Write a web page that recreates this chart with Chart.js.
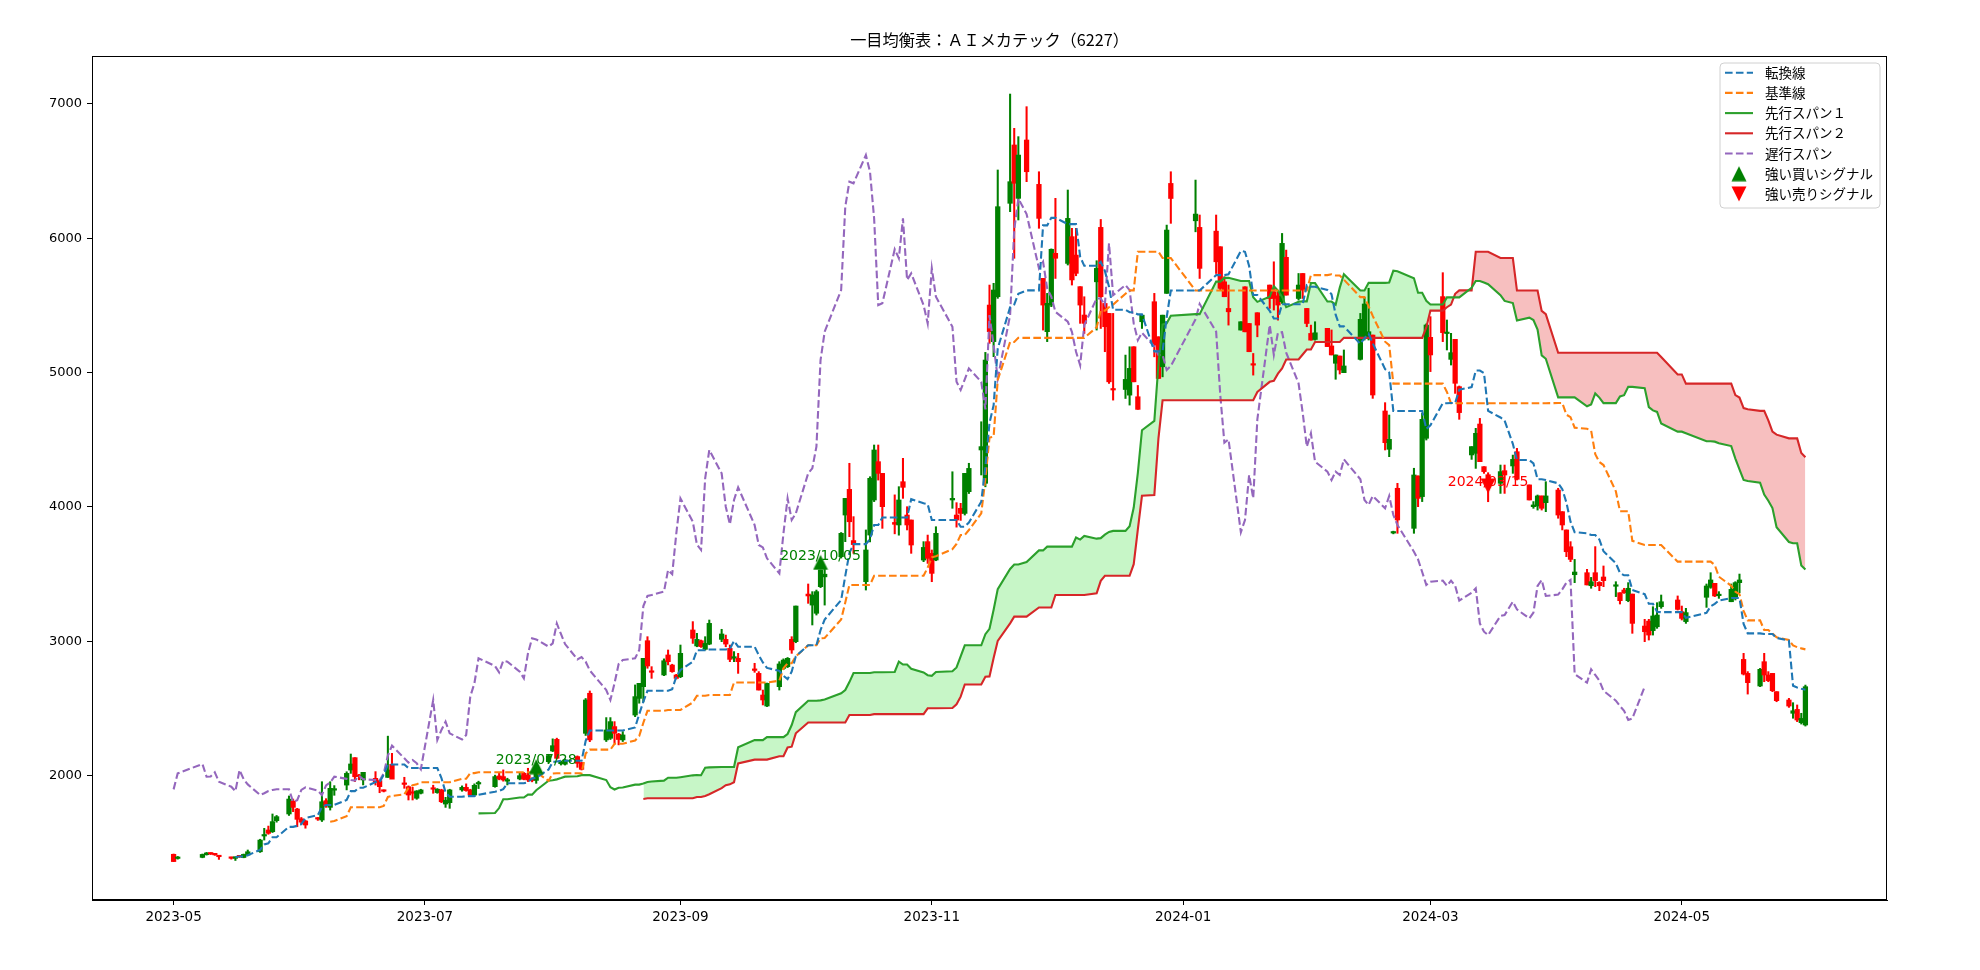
<!DOCTYPE html>
<html>
<head>
<meta charset="utf-8">
<script src="https://cdn.jsdelivr.net/npm/chart.js@4.4.1/dist/chart.umd.min.js"></script>
<style>
html, body { margin: 0; padding: 0; background: #fff; }
canvas { display: block; }
</style>
</head>
<body>
<canvas id="chart" width="1980" height="970"></canvas>
<script>
// 取引日 (2023-05-01 〜 2024-05-31)
const dates = [
'2023-05-01','2023-05-02','2023-05-08','2023-05-09','2023-05-10','2023-05-11','2023-05-12','2023-05-15','2023-05-16','2023-05-17','2023-05-18','2023-05-19','2023-05-22','2023-05-23','2023-05-24','2023-05-25','2023-05-26','2023-05-29','2023-05-30','2023-05-31',
'2023-06-01','2023-06-02','2023-06-05','2023-06-06','2023-06-07','2023-06-08','2023-06-09','2023-06-12','2023-06-13','2023-06-14','2023-06-15','2023-06-16','2023-06-19','2023-06-20','2023-06-21','2023-06-22','2023-06-23','2023-06-26','2023-06-27','2023-06-28','2023-06-29','2023-06-30',
'2023-07-03','2023-07-04','2023-07-05','2023-07-06','2023-07-07','2023-07-10','2023-07-11','2023-07-12','2023-07-13','2023-07-14','2023-07-18','2023-07-19','2023-07-20','2023-07-21','2023-07-24','2023-07-25','2023-07-26','2023-07-27','2023-07-28','2023-07-31',
'2023-08-01','2023-08-02','2023-08-03','2023-08-04','2023-08-07','2023-08-08','2023-08-09','2023-08-10','2023-08-14','2023-08-15','2023-08-16','2023-08-17','2023-08-18','2023-08-21','2023-08-22','2023-08-23','2023-08-24','2023-08-25','2023-08-28','2023-08-29','2023-08-30','2023-08-31',
'2023-09-01','2023-09-04','2023-09-05','2023-09-06','2023-09-07','2023-09-08','2023-09-11','2023-09-12','2023-09-13','2023-09-14','2023-09-15','2023-09-19','2023-09-20','2023-09-21','2023-09-22','2023-09-25','2023-09-26','2023-09-27','2023-09-28','2023-09-29',
'2023-10-02','2023-10-03','2023-10-04','2023-10-05','2023-10-06','2023-10-10','2023-10-11','2023-10-12','2023-10-13','2023-10-16','2023-10-17','2023-10-18','2023-10-19','2023-10-20','2023-10-23','2023-10-24','2023-10-25','2023-10-26','2023-10-27','2023-10-30','2023-10-31',
'2023-11-01','2023-11-02','2023-11-06','2023-11-07','2023-11-08','2023-11-09','2023-11-10','2023-11-13','2023-11-14','2023-11-15','2023-11-16','2023-11-17','2023-11-20','2023-11-21','2023-11-22','2023-11-24','2023-11-27','2023-11-28','2023-11-29','2023-11-30',
'2023-12-01','2023-12-04','2023-12-05','2023-12-06','2023-12-07','2023-12-08','2023-12-11','2023-12-12','2023-12-13','2023-12-14','2023-12-15','2023-12-18','2023-12-19','2023-12-20','2023-12-21','2023-12-22','2023-12-25','2023-12-26','2023-12-27','2023-12-28','2023-12-29',
'2024-01-04','2024-01-05','2024-01-09','2024-01-10','2024-01-11','2024-01-12','2024-01-15','2024-01-16','2024-01-17','2024-01-18','2024-01-19','2024-01-22','2024-01-23','2024-01-24','2024-01-25','2024-01-26','2024-01-29','2024-01-30','2024-01-31',
'2024-02-01','2024-02-02','2024-02-05','2024-02-06','2024-02-07','2024-02-08','2024-02-09','2024-02-13','2024-02-14','2024-02-15','2024-02-16','2024-02-19','2024-02-20','2024-02-21','2024-02-22','2024-02-26','2024-02-27','2024-02-28','2024-02-29',
'2024-03-01','2024-03-04','2024-03-05','2024-03-06','2024-03-07','2024-03-08','2024-03-11','2024-03-12','2024-03-13','2024-03-14','2024-03-15','2024-03-18','2024-03-19','2024-03-21','2024-03-22','2024-03-25','2024-03-26','2024-03-27','2024-03-28','2024-03-29',
'2024-04-01','2024-04-02','2024-04-03','2024-04-04','2024-04-05','2024-04-08','2024-04-09','2024-04-10','2024-04-11','2024-04-12','2024-04-15','2024-04-16','2024-04-17','2024-04-18','2024-04-19','2024-04-22','2024-04-23','2024-04-24','2024-04-25','2024-04-26','2024-04-30',
'2024-05-01','2024-05-02','2024-05-07','2024-05-08','2024-05-09','2024-05-10','2024-05-13','2024-05-14','2024-05-15','2024-05-16','2024-05-17','2024-05-20','2024-05-21','2024-05-22','2024-05-23','2024-05-24','2024-05-27','2024-05-28','2024-05-29','2024-05-30','2024-05-31'
];

const open = [
1416,1385,1393,1413,1424,1417,1405,1392,1386,1404,1392,1410,1435,1552,1597,1584,1666,1716,1812,1753,
1680,1664,1685,1671,1815,1765,1893,1931,2043,2135,2000,1969,1981,1964,1890,1988,2085,1942,1919,1880,1833,1870,
1907,1875,1895,1790,1800,1895,1914,1895,1857,1939,1919,1999,1994,1960,1977,2019,2006,1969,1966,2105,
2185,2271,2090,2086,2143,2098,2316,2614,2267,2279,2366,2310,2267,2452,2576,2663,3005,2780,2750,2899,2824,2750,
2737,3085,2966,3005,2941,2980,3015,3015,2948,2875,2874,2790,2762,2601,2519,2663,2799,2812,3015,2998,
3352,3270,3209,3407,3480,3630,3940,4131,3750,3444,3791,4052,4337,4250,3885,3866,4188,3940,3903,3605,3742,
3655,3605,4052,3940,3990,3952,4114,4424,4176,5502,5230,5564,6259,6693,6296,6730,6400,5701,5304,5502,
5887,5812,6011,5874,5639,5428,5675,6080,5514,5440,4880,4874,4832,5192,4820,5378,5527,5266,5043,5589,6407,
6129,6080,6052,5936,5675,5477,5316,5638,5365,5065,5445,5651,5601,5571,5527,5857,5551,5737,5477,
5291,5246,5329,5198,5069,5123,4999,5098,5255,5267,5279,4714,4429,3806,4139,3841,4231,4077,4511,
5262,5565,5290,5098,5247,4895,4387,4399,4617,4300,4240,4176,4270,4305,4411,4164,4002,4007,4082,4032,
4126,3965,3829,3704,3496,3511,3414,3511,3439,3479,3410,3362,3382,3303,3352,3114,3151,3080,3109,3258,3308,
3221,3147,3328,3402,3432,3340,3295,3328,3437,2866,2762,2668,2849,2750,2762,2626,2564,2465,2494,2395,2378
];
const high = [
1418,1400,1418,1430,1428,1420,1406,1395,1398,1408,1418,1448,1528,1609,1626,1716,1705,1850,1827,1758,
1690,1668,1690,1956,1830,1956,1927,2030,2162,2135,2010,2026,2031,1970,1895,2295,2167,1989,1925,1915,1890,1900,
1930,1905,1900,1840,1900,1925,1940,1900,1940,1960,2005,2018,2044,1982,2018,2025,2056,1985,2030,2160,
2275,2280,2110,2125,2148,2100,2575,2631,2433,2433,2403,2316,2329,2676,2688,2874,3035,2812,2870,2936,2830,2755,
2973,3147,3060,3010,3035,3159,3090,3047,2973,2924,2911,2837,2775,2638,2690,2849,2870,2880,3035,3263,
3427,3370,3382,3531,3535,3810,4064,4325,3928,3829,4225,4461,4461,4250,4090,4151,4362,4002,3903,3742,3791,
3680,3853,4262,4032,4027,4250,4325,4634,5150,5651,5664,6507,7072,6817,6755,6978,6494,5701,5589,5920,
6296,6358,6073,6073,5639,5564,5832,6139,5526,5440,5440,5130,5192,5192,4904,5428,5589,5266,5427,6097,6494,
6432,6172,6172,5936,5713,5651,5378,5638,5365,5142,5445,5651,5824,5601,6035,5911,5737,5737,5477,
5353,5378,5329,5317,5131,5123,5168,5440,5560,5627,5279,4776,4684,3820,4176,4288,4231,4697,5362,
5416,5743,5391,5292,5247,4900,4449,4585,4659,4300,4255,4312,4312,4386,4436,4164,4040,4089,4082,4188,
4139,3965,3829,3742,3610,3536,3476,3705,3444,3561,3444,3362,3395,3437,3352,3164,3164,3258,3288,3345,3338,
3263,3246,3427,3511,3432,3370,3427,3444,3501,2911,2775,2799,2911,2775,2762,2626,2576,2544,2527,2465,2675
];
const low = [
1361,1380,1390,1410,1414,1408,1378,1380,1370,1392,1390,1405,1430,1522,1565,1578,1655,1705,1733,1621,
1640,1610,1668,1660,1765,1745,1855,1895,2018,1957,1970,1932,1931,1874,1880,1988,1988,1907,1820,1820,1825,1865,
1870,1870,1800,1765,1758,1885,1885,1845,1850,1905,1915,1970,1960,1932,1970,1970,1957,1955,1944,2095,
2180,2125,2080,2080,2063,2043,2300,2254,2255,2270,2242,2230,2255,2440,2540,2550,2800,2725,2745,2825,2770,2720,
2730,2985,2960,2955,2935,2975,2998,2960,2849,2849,2762,2770,2638,2527,2515,2638,2790,2805,2911,2990,
3283,3122,3196,3400,3270,3620,3742,3779,3655,3382,3740,4040,4200,3841,3800,3790,4064,3829,3655,3593,3580,
3444,3600,3990,3850,3900,3940,4100,4238,4150,5217,5118,5552,6197,5850,6135,6420,6073,5316,5230,5490,
5700,5800,5651,5720,5366,5291,5316,5328,5155,4919,4795,4807,4758,4931,4726,5328,5117,4956,4968,5589,6110,
6047,5700,5737,5613,5564,5353,5316,5303,5155,4981,5266,5477,5465,5390,5514,5576,5539,5551,5341,
5241,5241,5193,5131,4950,4989,4999,5093,5242,5242,4808,4424,4374,3800,3804,3804,4002,4040,4498,
5007,5230,5168,5056,4845,4652,4354,4287,4337,4250,4039,4101,4101,4250,4201,4052,3990,3977,3977,3965,
3916,3829,3630,3593,3437,3420,3395,3407,3377,3407,3333,3278,3357,3295,3060,2998,3010,3047,3097,3246,3233,
3159,3134,3253,3395,3333,3320,3295,3308,3362,2750,2608,2663,2700,2700,2626,2551,2509,2428,2403,2385,2370
];
const close = [
1362,1392,1415,1426,1418,1412,1398,1386,1390,1397,1415,1435,1522,1562,1572,1659,1696,1827,1765,1676,
1655,1634,1678,1807,1775,1907,1899,2018,2088,1993,1995,2026,1956,1919,1885,2043,1975,1936,1857,1870,1887,1895,
1900,1900,1807,1818,1895,1914,1890,1857,1929,1950,1994,1977,1969,1964,2001,1974,1969,1965,2019,2150,
2224,2130,2098,2118,2093,2048,2564,2267,2341,2403,2316,2270,2304,2589,2688,2874,2817,2770,2856,2849,2775,2725,
2911,3023,3015,2961,2985,3134,3055,2980,2866,2883,2849,2784,2638,2564,2688,2832,2861,2874,2936,3263,
3338,3345,3370,3531,3500,3804,4064,3890,3720,3680,4213,4424,4250,4002,3871,4052,4146,3866,3717,3699,3618,
3506,3804,4064,3903,3952,4250,4287,4449,5093,5304,5614,6234,6420,6408,6618,6494,6147,5502,5515,5917,
5850,6147,5689,5738,5502,5366,5775,5564,5341,4931,4870,4949,5031,4931,4726,5427,5204,4956,5427,6060,6295,
6179,5775,5824,5626,5564,5452,5378,5303,5155,5055,5353,5551,5551,5502,5961,5576,5651,5613,5365,
5241,5296,5193,5131,5131,5019,5049,5396,5510,5304,4833,4478,4503,3812,3903,4238,4064,4652,5354,
5131,5297,5300,5148,4920,4702,4449,4548,4337,4263,4200,4263,4238,4354,4206,4052,4015,4082,3990,4082,
3940,3866,3667,3610,3516,3420,3444,3452,3414,3452,3414,3303,3362,3395,3134,3072,3047,3189,3196,3295,3238,
3171,3214,3412,3457,3338,3348,3387,3437,3457,2757,2693,2792,2750,2708,2633,2559,2519,2484,2415,2427,2663
];

// シグナル
const buyDates = ['2023-07-28', '2023-10-05'];
const buyValues = [2068, 3588];
const sellDates = ['2024-03-15'];
const sellValues = [4156];

// 軸
const xTickLabels = ['2023-05', '2023-07', '2023-09', '2023-11', '2024-01', '2024-03', '2024-05'];
const yTickValues = [2000, 3000, 4000, 5000, 6000, 7000];
const yMin = 1076;
const yMax = 7355;

const DAY = 86400000;
function toDay(s) {
    return Date.UTC(+s.slice(0, 4), +s.slice(5, 7) - 1, +(s.slice(8, 10) || 1)) / DAY;
}
const xs = dates.map(toDay);
const xPad = (xs[xs.length - 1] - xs[0]) * 0.05;

// 一目均衡表の計算
function midpoint(period) {
    return dates.map((_, i) => {
        if (i < period - 1) return null;
        let hi = -Infinity, lo = Infinity;
        for (let k = i - period + 1; k <= i; k++) {
            hi = Math.max(hi, high[k]);
            lo = Math.min(lo, low[k]);
        }
        return (hi + lo) / 2;
    });
}
const SHIFT = 26;
const tenkan = midpoint(9);
const kijun = midpoint(26);
const mid52 = midpoint(52);
const senkouA = dates.map((_, i) => {
    const j = i - SHIFT;
    if (j < 0 || tenkan[j] == null || kijun[j] == null) return null;
    return (tenkan[j] + kijun[j]) / 2;
});
const senkouB = dates.map((_, i) => (i - SHIFT >= 0 ? mid52[i - SHIFT] : null));
const chikou = dates.map((_, i) => (i + SHIFT < close.length ? close[i + SHIFT] : null));

function toPoints(arr) {
    return arr.map((v, i) => (v == null ? null : { x: xs[i], y: v })).filter(p => p);
}
const cloudA = toPoints(senkouA.map((v, i) => (senkouB[i] == null ? null : v)));

const candleColors = close.map((c, i) => (c >= open[i] ? 'green' : 'red'));

// matplotlib風の三角マーカー
function triangleCanvas(color, down) {
    const c = document.createElement('canvas');
    c.width = 16; c.height = 16;
    const g = c.getContext('2d');
    g.beginPath();
    if (down) {
        g.moveTo(0.5, 0.5); g.lineTo(15.5, 0.5); g.lineTo(8, 15.5);
    } else {
        g.moveTo(8, 0.5); g.lineTo(15.5, 15.5); g.lineTo(0.5, 15.5);
    }
    g.closePath();
    g.fillStyle = color;
    g.fill();
    return c;
}
const upMarker = triangleCanvas('green', false);
const downMarker = triangleCanvas('red', true);

const LW = 2.1;
const DASH = [7.6, 3.3];
const legendItems = [
    { label: '転換線', color: '#1f77b4', dash: DASH },
    { label: '基準線', color: '#ff7f0e', dash: DASH },
    { label: '先行スパン１', color: '#2ca02c', dash: [] },
    { label: '先行スパン２', color: '#d62728', dash: [] },
    { label: '遅行スパン', color: '#9467bd', dash: DASH },
    { label: '強い買いシグナル', marker: upMarker },
    { label: '強い売りシグナル', marker: downMarker }
];

const decorations = {
    id: 'decorations',
    afterDatasetsDraw(chart) {
        const { ctx, scales: { x, y } } = chart;
        ctx.save();
        ctx.font = '14px "DejaVu Sans"';
        ctx.textAlign = 'center';
        ctx.textBaseline = 'middle';
        buyDates.forEach((d, i) => {
            ctx.fillStyle = 'green';
            ctx.fillText(d.replace(/-/g, '/'), x.getPixelForValue(toDay(d)), y.getPixelForValue(buyValues[i]) - 6);
        });
        sellDates.forEach((d, i) => {
            ctx.fillStyle = 'red';
            ctx.fillText(d.replace(/-/g, '/'), x.getPixelForValue(toDay(d)), y.getPixelForValue(sellValues[i]) - 4);
        });
        ctx.restore();
    },
    afterDraw(chart) {
        const { ctx, chartArea: a } = chart;
        ctx.save();
        // 枠
        ctx.strokeStyle = '#000';
        ctx.lineWidth = 1;
        ctx.strokeRect(a.left + 0.5, a.top + 0.5, a.right - a.left - 1, a.bottom - a.top - 1);

        // タイトル
        ctx.fillStyle = '#000';
        ctx.font = '16.2px "Noto Sans CJK JP"';
        ctx.textAlign = 'center';
        ctx.textBaseline = 'middle';
        ctx.fillText('一目均衡表：ＡＩメカテック（6227）', (a.left + a.right) / 2, 40);

        // 凡例
        const bx = a.right - 167, by = a.top + 7, bw = 160, bh = 145, r = 4;
        ctx.beginPath();
        ctx.moveTo(bx + r, by);
        ctx.arcTo(bx + bw, by, bx + bw, by + bh, r);
        ctx.arcTo(bx + bw, by + bh, bx, by + bh, r);
        ctx.arcTo(bx, by + bh, bx, by, r);
        ctx.arcTo(bx, by, bx + bw, by, r);
        ctx.closePath();
        ctx.fillStyle = 'rgba(255,255,255,0.8)';
        ctx.fill();
        ctx.strokeStyle = '#d0d0d0';
        ctx.stroke();

        ctx.font = '13.5px "Noto Sans CJK JP"';
        ctx.textAlign = 'left';
        legendItems.forEach((it, k) => {
            const cy = by + 9.7 + k * 20.2;
            if (it.marker) {
                ctx.drawImage(it.marker, bx + 19 - 8, cy - 8);
            } else {
                ctx.strokeStyle = it.color;
                ctx.lineWidth = LW;
                ctx.setLineDash(it.dash);
                ctx.beginPath();
                ctx.moveTo(bx + 5, cy);
                ctx.lineTo(bx + 33, cy);
                ctx.stroke();
                ctx.setLineDash([]);
            }
            ctx.fillStyle = '#000';
            ctx.fillText(it.label, bx + 45, cy);
        });
        ctx.restore();
    }
};

Chart.defaults.font.family = '"DejaVu Sans"';
Chart.defaults.color = '#000';

const ctx = document.getElementById('chart').getContext('2d');
new Chart(ctx, {
    type: 'line',
    data: {
        datasets: [
            {
                type: 'line', label: 'cloud', data: cloudA,
                borderColor: 'rgba(0,0,0,0)', borderWidth: 0, pointRadius: 0,
                fill: { target: 4, above: 'rgba(144,238,144,0.5)', below: 'rgba(240,128,128,0.5)' },
                order: 9
            },
            {
                type: 'line', label: '転換線', data: toPoints(tenkan),
                borderColor: '#1f77b4', borderWidth: LW, borderDash: DASH, pointRadius: 0, fill: false, order: 3
            },
            {
                type: 'line', label: '基準線', data: toPoints(kijun),
                borderColor: '#ff7f0e', borderWidth: LW, borderDash: DASH, pointRadius: 0, fill: false, order: 3
            },
            {
                type: 'line', label: '先行スパン１', data: toPoints(senkouA),
                borderColor: '#2ca02c', borderWidth: LW, pointRadius: 0, fill: false, order: 3
            },
            {
                type: 'line', label: '先行スパン２', data: toPoints(senkouB),
                borderColor: '#d62728', borderWidth: LW, pointRadius: 0, fill: false, order: 3
            },
            {
                type: 'line', label: '遅行スパン', data: toPoints(chikou),
                borderColor: '#9467bd', borderWidth: LW, borderDash: DASH, pointRadius: 0, fill: false, order: 3
            },
            {
                type: 'bar', label: 'wick',
                data: dates.map((d, i) => ({ x: xs[i], y: [low[i], high[i]] })),
                backgroundColor: candleColors, barThickness: 1.4, grouped: false, order: 8
            },
            {
                type: 'bar', label: 'body',
                data: dates.map((d, i) => ({ x: xs[i], y: [open[i], close[i]] })),
                backgroundColor: candleColors, barThickness: 4.6, grouped: false, minBarLength: 1.5, order: 7
            },
            {
                type: 'scatter', label: '強い買いシグナル',
                data: buyDates.map((d, i) => ({ x: toDay(d), y: buyValues[i] })),
                pointStyle: upMarker, pointRadius: 8, order: 0
            },
            {
                type: 'scatter', label: '強い売りシグナル',
                data: sellDates.map((d, i) => ({ x: toDay(d), y: sellValues[i] })),
                pointStyle: downMarker, pointRadius: 8, order: 0
            }
        ]
    },
    options: {
        responsive: false,
        animation: false,
        devicePixelRatio: 1,
        layout: { padding: { top: 56, right: 93, left: 0, bottom: 0 } },
        plugins: {
            legend: { display: false },
            tooltip: { enabled: false },
            title: { display: false }
        },
        scales: {
            x: {
                type: 'linear',
                min: xs[0] - xPad,
                max: xs[xs.length - 1] + xPad,
                offset: false,
                grid: { display: true, drawOnChartArea: false, tickLength: 5, tickColor: '#000', offset: false },
                border: { display: true, color: '#000', width: 1 },
                ticks: {
                    font: { size: 13.5 }, color: '#000', padding: 4, maxRotation: 0, autoSkip: false,
                    callback: (v, i) => xTickLabels[i]
                },
                afterBuildTicks: s => { s.ticks = xTickLabels.map(l => ({ value: toDay(l + '-01') })); },
                afterFit: s => { s.height = 70; }
            },
            y: {
                type: 'linear',
                min: yMin,
                max: yMax,
                grid: { display: true, drawOnChartArea: false, tickLength: 5, tickColor: '#000' },
                border: { display: true, color: '#000', width: 1 },
                ticks: { font: { size: 13 }, color: '#000', padding: 5, callback: v => String(v) },
                afterBuildTicks: s => { s.ticks = yTickValues.map(v => ({ value: v })); },
                afterFit: s => { s.width = 92; }
            }
        }
    },
    plugins: [decorations]
});
</script>
</body>
</html>
